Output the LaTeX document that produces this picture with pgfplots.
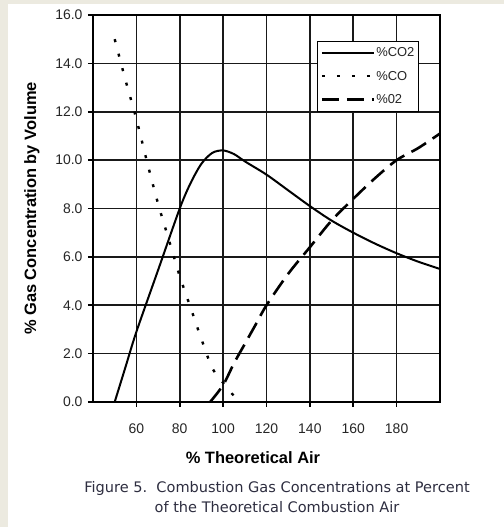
\documentclass[border=0pt]{standalone}
\usepackage{pgfplots}
\pgfplotsset{compat=1.18}
\usepackage{fontspec}
\setmainfont{Liberation Sans}
\newfontfamily\capfont{DejaVu Sans}
\definecolor{framebeige}{HTML}{ECEAE0}
\definecolor{txtgray}{HTML}{262626}
\definecolor{capgray}{HTML}{2E2E40}

\begin{document}
\begin{tikzpicture}
\fill[framebeige] (0,0) rectangle (504bp,527bp);
\fill[white] (8bp,0) rectangle (504bp,523bp);
\useasboundingbox (0,0) rectangle (504bp,527bp);
\begin{axis}[
    at={(93bp,125bp)}, anchor=south west,
    scale only axis, width=347bp, height=387bp,
    xmin=40, xmax=200, ymin=0, ymax=16,
    xtick={60,80,...,180}, ytick={0,2,...,16},
    grid=major, grid style={line width=1.6bp, black!90},
    axis line style={line width=2.2bp},
    tick style={line width=1.6bp, black},
    tick align=outside, tick pos=left, major tick length=5bp,
    /pgf/number format/assume math mode=true,
    ticklabel style={font=\fontsize{14}{16}\selectfont, text=txtgray},
    yticklabel style={xshift=-2bp, /pgf/number format/.cd, fixed, fixed zerofill, precision=1},
    xticklabel style={yshift=-13bp},
    xlabel={\% Theoretical Air},
    ylabel={\% Gas Concentration by Volume},
    label style={font=\bfseries\fontsize{16.5}{18}\selectfont},
    xlabel style={at={(axis description cs:0.461,-0.145)}, anchor=center},
    ylabel style={at={(axis description cs:-0.176,0.5)}, anchor=center},
    legend style={at={(0.646,0.933)}, anchor=north west, draw=black, line width=1bp,
        fill=white, font=\fontsize{13}{15}\selectfont, text=txtgray,
        inner xsep=3bp, inner ysep=5bp, row sep=11bp,
        nodes={inner sep=1bp}},
    legend cell align=left,
    legend image code/.code={\draw[#1] (0bp,0bp) -- (52bp,0bp);},
]
% %CO2
\addplot[black, line width=2bp, smooth] coordinates {
(50,0)(55,1.45)(60,2.9)(70,5.45)(80,8.0)(85,9.05)(90,9.85)(95,10.3)(100,10.4)
(105,10.25)(110,9.95)(120,9.4)(130,8.75)(140,8.1)(150,7.5)(160,7.0)
(170,6.55)(180,6.15)(190,5.8)(200,5.5)
};
% %CO
\addplot[black, line width=2.4bp, dash pattern=on 3bp off 12bp, smooth] coordinates {
(50,15)(55,13.3)(60,11.7)(65,9.9)(70,8.2)(75,6.7)(80,5.2)(85,3.9)(90,2.6)
(95,1.4)(100,0.8)(104,0.35)(108,0)
};
% %O2
\addplot[black, line width=2.6bp, dash pattern=on 17bp off 8bp, smooth] coordinates {
(94,0)(100,0.7)(105,1.6)(110,2.4)(115,3.2)(120,4.0)(130,5.3)(140,6.4)
(150,7.5)(160,8.4)(170,9.25)(180,10.0)(190,10.5)(200,11.1)
};
\legend{\%CO2,\%CO,\%02}
\end{axis}
\node[font=\capfont\fontsize{14.6}{17}\selectfont, text=capgray, anchor=base] at (277bp,35bp)
    {Figure 5.\ \ Combustion Gas Concentrations at Percent};
\node[font=\capfont\fontsize{14.6}{17}\selectfont, text=capgray, anchor=base] at (277bp,15bp)
    {of the Theoretical Combustion Air};
\end{tikzpicture}
\end{document}
